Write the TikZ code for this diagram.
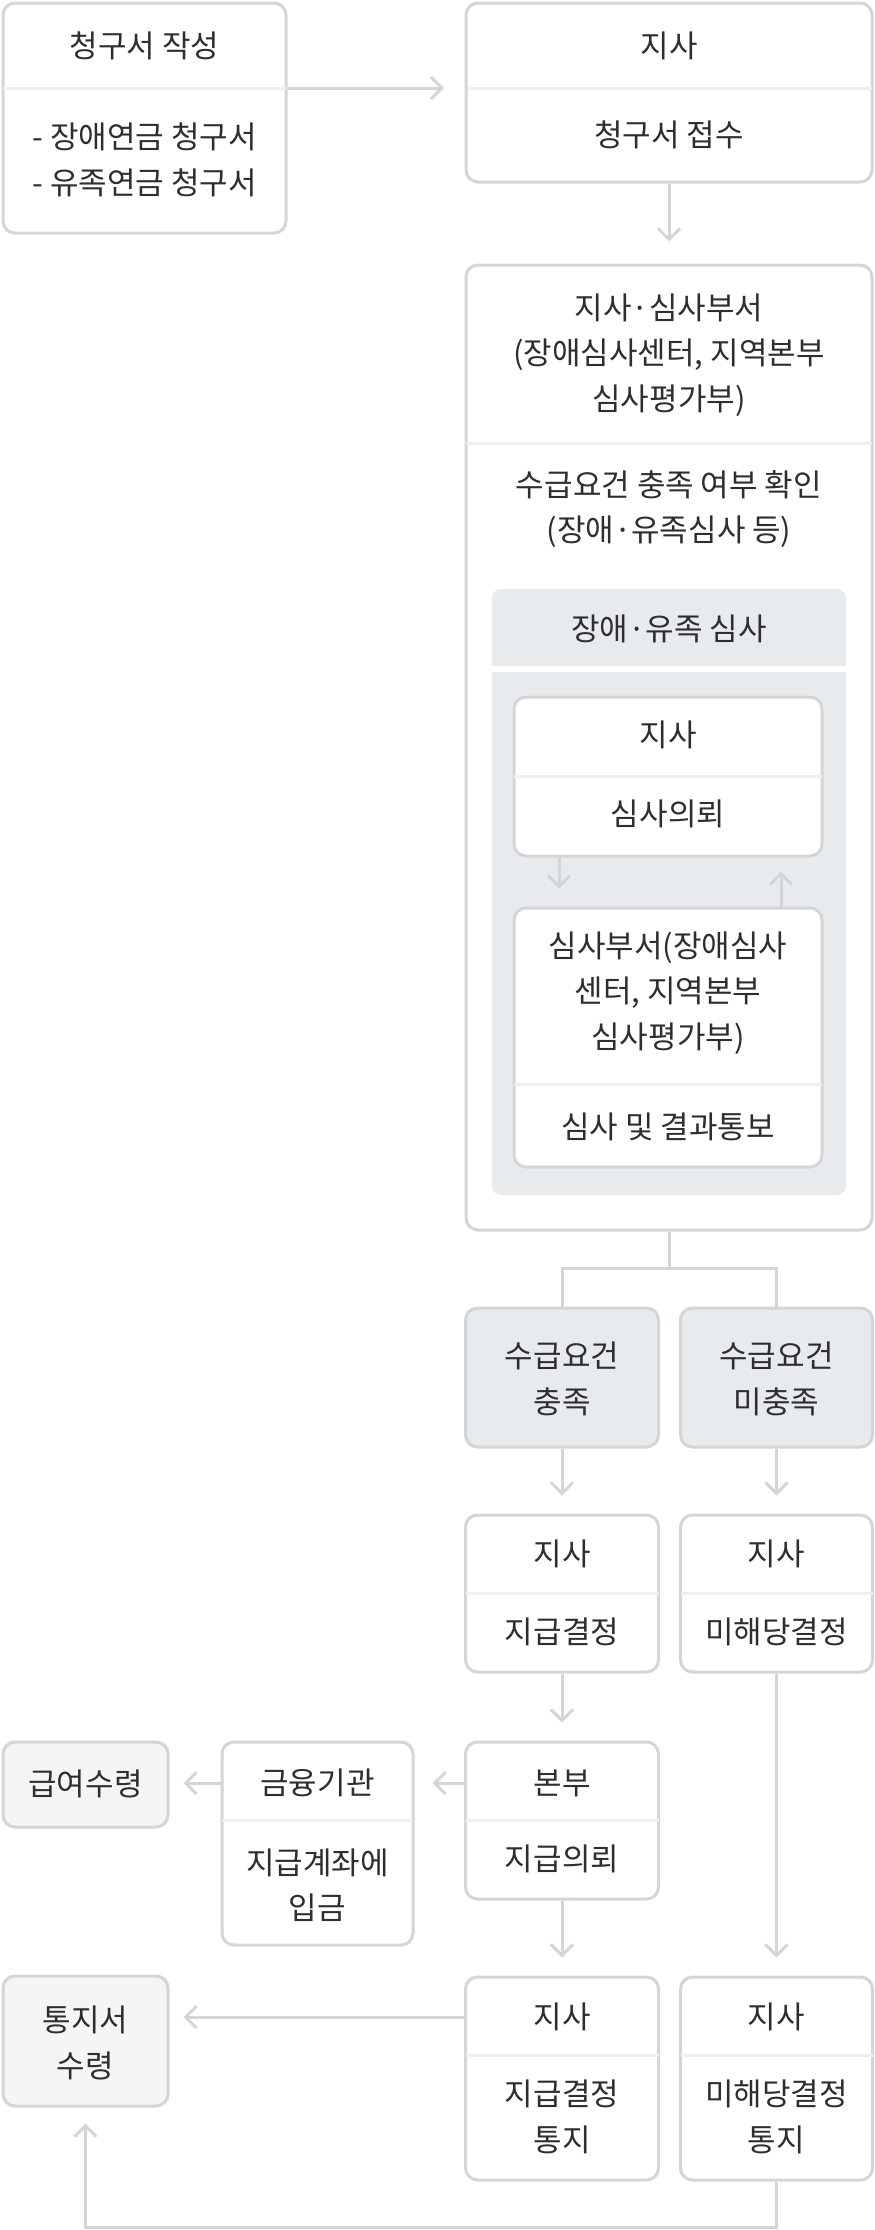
\documentclass[tikz,border=0pt]{standalone}
\usepackage{fontspec}
\setmainfont{Noto Sans CJK KR}
\usepackage{tikz}
\usetikzlibrary{arrows.meta}

\definecolor{edge}{HTML}{D4D5D9}
\definecolor{rule}{HTML}{EEEFF1}
\definecolor{panel}{HTML}{E8EBEE}
\definecolor{soft}{HTML}{F5F5F5}
\definecolor{ink}{HTML}{2E2E30}

\begin{document}
\begin{tikzpicture}[x=1pt, y=-1pt,
  font=\fontsize{31}{45.5}\selectfont, text=ink,
  card/.style={draw=edge, line width=3pt, rounded corners=12pt, fill=white, inner sep=0pt},
  greycard/.style={card, fill=panel},
  litecard/.style={card, fill=soft},
  txt/.style={align=center, inner sep=0pt},
  divline/.style={draw=rule, line width=3pt, shorten <=1.5pt, shorten >=1.5pt},
  flow/.style={draw=edge, line width=3pt, -{Straight Barb[length=11pt, width=22pt]}, shorten >=18pt},
  link/.style={draw=edge, line width=3pt}]

\useasboundingbox (0,0) rectangle (875,2230);

% claim and branch office
\node[card, minimum width=283pt, minimum height=230pt] (write) at (144.5,118) {};
\node[txt] (writet) at (144.5,46) {청구서 작성};
\node[txt, align=left] (writeb) at (144.5,160) {- 장애연금 청구서\\- 유족연금 청구서};
\node[card, minimum width=406pt, minimum height=179pt] (recv) at (669,92.5) {};
\coordinate (recvsplit) at (466,88);
\node[txt] (recvt) at (669,46) {지사};
\node[txt] (recvb) at (669,135) {청구서 접수};
\draw[divline] (write.west |- recvsplit) -- (write.east |- recvsplit);
\draw[divline] (recvsplit) -- (recv.east |- recvsplit);

% review block
\node[card, minimum width=406pt, minimum height=965pt] (review) at (669,747.5) {};
\node[txt] (reviewt) at (669,355) {지사·심사부서\\(장애심사센터, 지역본부\\심사평가부)};
\draw[divline] (review.west |- 0,443) -- (review.east |- 0,443);
\node[txt] (reviewb) at (669,509) {수급요건 충족 여부 확인\\(장애·유족심사 등)};
\node[fill=panel, rounded corners=9pt, inner sep=0pt, minimum width=354pt, minimum height=606pt] (exam) at (669,892) {};
\node[txt] (examt) at (669,629) {장애·유족 심사};
\draw[white, line width=6pt] (exam.west |- 0,669) -- (exam.east |- 0,669);
\node[card, minimum width=308pt, minimum height=159pt] (ask) at (668,776.5) {};
\node[txt] (askt) at (668,735) {지사};
\draw[divline] (ask.west |- 0,776) -- (ask.east |- 0,776);
\node[txt] (askb) at (668,814) {심사의뢰};
\node[card, minimum width=308pt, minimum height=259pt] (dept) at (668,1037.5) {};
\node[txt] (deptt) at (668,993) {심사부서(장애심사\\센터, 지역본부\\심사평가부)};
\draw[divline] (dept.west |- 0,1084) -- (dept.east |- 0,1084);
\node[txt] (deptb) at (668,1127) {심사 및 결과통보};

% outcome columns
\node[greycard, minimum width=193pt, minimum height=139pt] (met) at (562,1377.5) {};
\node[txt] at (562,1379) {수급요건\\충족};
\node[greycard, minimum width=192pt, minimum height=139pt] (unmet) at (776.5,1377.5) {};
\node[txt] at (776.5,1379) {수급요건\\미충족};
\node[card, minimum width=193pt, minimum height=157pt] (paydec) at (562,1593.5) {};
\node[txt] (paydect) at (562,1554) {지사};
\draw[divline] (paydec.west) -- (paydec.east);
\node[txt] (paydecb) at (562,1632) {지급결정};
\node[card, minimum width=192pt, minimum height=157pt] (nodec) at (776.5,1593.5) {};
\node[txt] (nodect) at (776.5,1554) {지사};
\draw[divline] (nodec.west) -- (nodec.east);
\node[txt] (nodecb) at (776.5,1632) {미해당결정};
\node[card, minimum width=193pt, minimum height=157pt] (hq) at (562,1820.5) {};
\node[txt] (hqt) at (562,1783) {본부};
\draw[divline] (hq.west) -- (hq.east);
\node[txt] (hqb) at (562,1859) {지급의뢰};
\node[card, minimum width=191pt, minimum height=203pt] (bank) at (317.5,1843.5) {};
\node[txt] (bankt) at (317.5,1783) {금융기관};
\draw[divline] (bank.west |- 0,1820) -- (bank.east |- 0,1820);
\node[txt] (bankb) at (317.5,1885) {지급계좌에\\입금};
\node[litecard, minimum width=165pt, minimum height=85pt] (pay) at (85.5,1784.5) {};
\node[txt] at (85.5,1784) {급여수령};
\node[card, minimum width=193pt, minimum height=203pt] (notice) at (562,2078.5) {};
\node[txt] (noticet) at (562,2017) {지사};
\draw[divline] (notice.west |- 0,2055) -- (notice.east |- 0,2055);
\node[txt] (noticeb) at (562,2117) {지급결정\\통지};
\node[card, minimum width=192pt, minimum height=203pt] (notun) at (776.5,2078.5) {};
\node[txt] (notunt) at (776.5,2017) {지사};
\draw[divline] (notun.west |- 0,2055) -- (notun.east |- 0,2055);
\node[txt] (notunb) at (776.5,2117) {미해당결정\\통지};
\node[litecard, minimum width=165pt, minimum height=130pt] (got) at (85.5,2041) {};
\node[txt] at (85.5,2043) {통지서\\수령};

\coordinate (fork) at (669,1268);
\coordinate (back) at (776.5,2227);

\draw[flow, shorten >=22pt] (write.east |- recvsplit) -- (recvsplit);
\draw[flow, shorten >=22pt] (recv) -- (review);
\draw[flow] ([xshift=-109pt]ask.south) -- ([xshift=-109pt]dept.north);
\draw[flow, shorten >=14pt] ([xshift=113pt]dept.north) -- ([xshift=113pt]ask.south);
\draw[link] (review.south) -- (fork) -| (met.north);
\draw[link] (fork) -| (unmet.north);
\draw[flow] (met) -- (paydec);
\draw[flow] (unmet) -- (nodec);
\draw[flow] (paydec) -- (hq);
\draw[flow] (hq.west |- hqt) -- (bank.east |- hqt);
\draw[flow, shorten >=14pt] (bank.west |- hqt) -- (pay.east |- hqt);
\draw[flow] (hq) -- (notice);
\draw[flow] (nodec) -- (notun);
\draw[flow, shorten >=14pt] (notice.west |- noticet) -- (got.east |- noticet);
\draw[flow, shorten >=16pt] (notun.south) -- (back) -| (got.south);
\end{tikzpicture}
\end{document}
